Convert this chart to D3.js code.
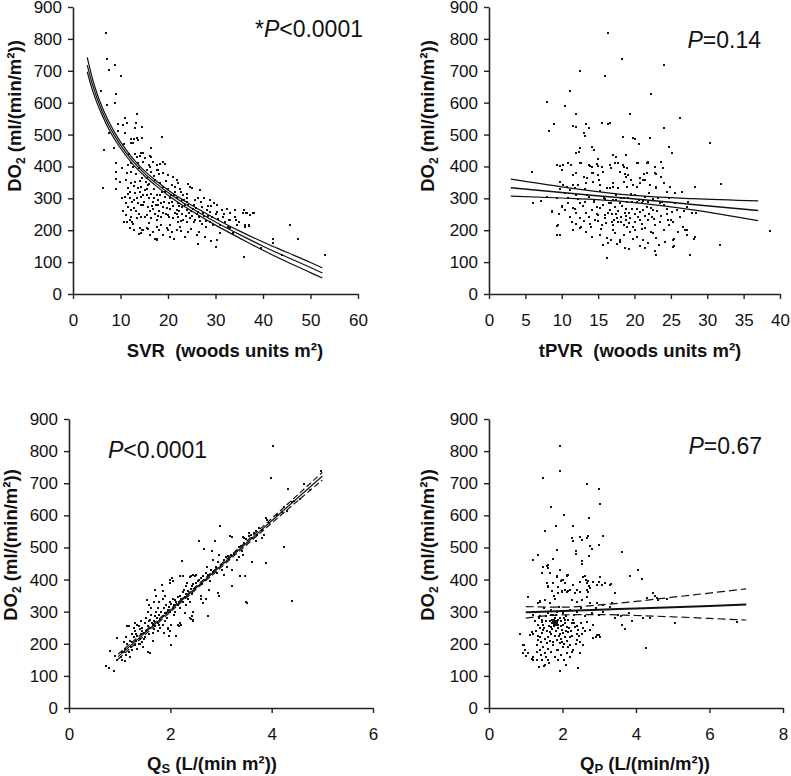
<!DOCTYPE html>
<html>
<head>
<meta charset="utf-8">
<script src="https://cdn.jsdelivr.net/npm/d3@7"></script>
<style>
  html, body { margin: 0; padding: 0; background: #fff; }
  svg text { font-family: "Liberation Sans", Arial, sans-serif; fill: #111; }
</style>
</head>
<body>
<svg id="chart" width="791" height="776"></svg>
<script>
// ---------------- DATA ----------------
const yTicks = [0, 100, 200, 300, 400, 500, 600, 700, 800, 900];
const svrTicks = [0, 10, 20, 30, 40, 50, 60];
const tpvrTicks = [0, 5, 10, 15, 20, 25, 30, 35, 40];
const qsTicks = [0, 2, 4, 6];
const qpTicks = [0, 2, 4, 6, 8];

const pLabels = ["*P<0.0001", "P=0.14", "P<0.0001", "P=0.67"];

// Panel A: SVR vs DO2 (points)
const svrPoints = [
[7.0,820],[7.2,738],[7.6,702],[8.9,717],[10.2,683],[5.9,637],[9.1,626],[8.9,600],[7.2,592],[13.4,566],[11.0,551],[13.2,535],[9.4,533],[10.5,530],[11.3,537],[13.1,521],[14.5,525],[9.4,510],[11.0,506],[7.6,504],[12.2,485],[12.9,485],[13.4,489],[13.7,483],[14.5,489],[18.7,493],[12.2,474],[12.7,472],[8.7,457],[6.5,451],[16.4,459],[14.3,441],[14.8,443],[16.3,433],
[9.1,412],[13.0,439],[13.4,430],[14.1,432],[15.1,425],[16.5,430],[16.9,415],[18.3,409],[19.0,415],[19.3,407],[17.6,404],[16.2,399],[14.8,415],[13.7,410],
[9.1,383],[9.1,362],[11.6,404],[12.6,399],[12.3,383],[15.5,389],[16.5,383],[17.9,389],[19.0,378],[20.0,373],[21.1,366],[21.8,357],[22.2,347],
[9.1,328],[6.3,332],[11.2,357],[12.3,347],[13.0,352],[13.7,331],[14.4,336],[15.1,326],[15.8,342],[17.2,357],[18.3,347],[19.0,334],[20.0,328],[20.8,342],[21.5,334],[24.6,334],[25.0,331],[22.5,328],[23.2,310],[23.9,313],
[11.6,331],[11.9,321],[13.0,318],[14.4,305],[15.5,310],[16.5,315],[17.6,310],[19.3,305],[20.4,300],[21.8,300],[22.9,295],[23.9,289],[25.7,295],[26.7,326],[27.5,300],[28.9,295],[29.6,284],[30.3,279],
[10.9,305],[11.2,284],[11.6,274],[12.3,263],[12.8,295],[13.7,284],[14.8,279],[15.8,274],[16.9,268],[17.9,279],[19.0,274],[20.4,268],[21.8,263],[22.9,274],[23.9,263],[25.3,268],[26.4,258],[27.1,274],[28.2,263],[28.9,258],[30.3,258],[31.3,263],[32.4,268],[33.1,253],[34.2,263],[35.9,263],[36.6,253],[37.3,247],[38.0,253],
[11.2,248],[11.9,232],[12.3,242],[13.4,237],[14.4,242],[15.5,248],[16.5,237],[17.6,232],[18.6,242],[20.0,248],[21.1,237],[22.2,242],[23.2,232],[24.6,237],[25.7,232],[27.1,221],[28.9,226],[31.0,216],[33.1,232],[36.3,211],[37.0,216],[33.1,206],[23.9,227],
[12.6,221],[14.1,206],[14.8,200],[15.5,206],[16.9,195],[17.6,211],[18.6,216],[19.7,206],[20.8,195],[21.8,200],[22.5,211],[24.3,195],[26.0,185],[27.8,180],[30.3,169],[31.0,190],[20.4,180],[14.4,190],[16.2,185],[17.6,169],[20.4,216],
[45.6,217],[47.3,172],[42.1,172],[42.1,161],[44.0,123],[53.0,123],[37.8,255],[36.4,255],[35.7,253],[36.3,216],[37.1,214],[35.9,115],[39.5,144],[33.6,191],[30.1,147],[26.4,156],[29.1,165],[32.9,232],[34.3,232],
[10.8,227],[12.5,225],[13.9,188],[14.6,201],[15.7,203],[17.3,172],[17.6,172],[19.9,201],[21.3,172],[22.7,198],[26.6,193],
[12.0,300],[12.8,270],[13.5,300],[14.0,355],[14.2,320],[15.0,290],[15.3,350],[16.0,300],[16.2,260],[16.8,290],[17.0,330],[17.3,250],[17.8,295],[18.0,260],[18.5,285],[18.8,320],[19.2,290],[19.6,250],[20.2,285],[20.6,310],[21.0,275],[21.4,255],[22.0,285],[22.4,260],[23.0,250],[23.5,280],[24.0,300],[24.4,255],[25.0,245],[25.5,280],[26.0,250],[26.5,240],[27.0,290],[27.6,245],[28.0,230],[28.5,275],[29.3,240],[30.0,250],[31.5,240],[32.0,225],[34.0,240],[35.0,225],[15.6,365],[17.0,370],[18.2,375],[13.2,375],[14.6,365],[10.4,395],[11.4,380],[19.6,355],[21.5,320],[24.2,345],[22.8,320],
[11.5,315],[12.4,290],[12.9,340],[13.3,260],[13.8,250],[14.3,280],[14.7,310],[15.2,240],[15.6,330],[16.1,345],[16.6,275],[17.1,300],[17.5,280],[17.9,245],[18.4,310],[18.9,255],[19.4,320],[19.8,270],[20.3,240],[20.9,290],[21.3,310],[21.9,250],[22.3,275],[22.8,230],[23.3,295],[23.8,245],[24.3,280],[24.8,260],[25.4,225],[25.9,270],[26.3,300],[26.8,230],[27.3,255],[27.9,210],[28.4,245],[29.0,275],[29.5,215],[30.6,235],[31.8,250],[32.7,210],[34.6,215],[12.2,410],[13.9,395],[15.9,405],[17.7,390],[11.8,440],[10.7,470],[9.9,350],[10.3,300],[10.6,260],[11.3,225],[12.1,206],[12.9,200],[16.1,222],[18.1,200],[19.0,185],[22.0,225],[24.9,205],[23.6,180]
];
// Panel A fit curve and 95% limits
const svrFitX     = [3, 4, 5, 6, 7.5, 10, 12.5, 15, 17.5, 20, 25, 30, 35, 40, 45, 50, 52.5];
const svrFitMid   = [718, 662, 616, 578, 530, 467, 418, 379, 347, 318, 269, 226, 187, 150, 116, 83, 66];
const svrFitUpper = [742, 681, 631, 591, 542, 477, 427, 387, 355, 326, 278, 236, 198, 163, 131, 99, 82];
const svrFitLower = [697, 644, 601, 565, 518, 457, 409, 371, 339, 310, 260, 216, 176, 137, 101, 67, 50];

// Panel B: tPVR vs DO2
const tpvrPoints = [
[16.4,820],[18.3,738],[24.1,717],[12.5,700],[15.9,683],[11.1,637],[22.3,626],[8.0,601],[10.4,591],[11.9,566],[19.4,566],[26.2,551],[8.9,533],[11.5,528],[12.0,525],[13.3,533],[15.5,535],[16.4,533],[16.7,537],[13.8,519],[8.3,511],[13.0,504],[13.2,495],[24.0,522],[18.4,493],[19.8,488],[20.0,485],[22.1,490],[30.4,475],[20.6,470],[12.5,457],[12.4,446],[14.2,460],[14.4,451],[24.8,460],[25.1,441],[17.1,436],[17.5,429],[18.8,435],[21.9,415],[21.9,410],[20.4,412],[11.9,441],[10.9,410],[11.3,405],[9.3,405],[9.8,400],[13.7,405],[13.9,400],[15.0,422],[15.0,400],[12.7,412],[16.6,405],[16.8,396],[17.8,410],[18.4,403],[19.5,358],[23.9,396],[21.3,376],[22.9,376],[21.4,358],[18.7,376],[14.3,379],[15.1,358],[13.5,363],[11.9,379],[10.0,389],[28.3,337],[31.9,345],[5.9,382],[9.8,352],[24.4,321],[23.0,337],[20.3,334],[16.6,332],[17.1,337],[13.2,330],[11.6,342],
[10.2,404],[12.5,410],[14.1,399],[14.8,407],[15.5,399],[17.3,412],[18.5,399],[19.0,394],[20.5,412],[21.7,412],[22.8,399],[23.7,415],
[11.6,373],[13.0,368],[14.1,378],[15.0,373],[15.7,383],[18.0,383],[18.8,368],[19.1,373],[20.8,363],[21.7,378],[22.8,378],[23.7,368],
[10.2,342],[10.7,336],[11.8,331],[12.3,342],[13.4,347],[14.3,352],[15.2,342],[16.2,331],[17.1,347],[17.8,331],[18.5,352],[19.0,336],[19.8,342],[20.8,347],[21.2,357],[22.1,342],[23.0,331],[24.0,347],[24.9,336],[25.6,316],[26.5,321],[27.4,289],
[6.0,284],[7.1,291],[8.7,258],[9.3,300],[10.0,274],[10.9,284],[11.8,268],[12.5,284],[13.2,289],[14.1,263],[14.8,274],[15.7,279],[16.6,263],[17.3,274],[18.0,284],[18.9,268],[19.6,289],[20.3,268],[21.0,284],[21.7,274],[22.6,263],[23.5,284],[24.4,268],[25.1,258],[25.8,263],[27.2,274],[27.9,253],[28.5,253],
[9.5,216],[9.8,185],[11.1,242],[11.4,227],[11.6,201],[12.5,237],[12.7,211],[13.4,253],[13.9,221],[14.6,232],[15.0,248],[15.5,216],[15.9,237],[16.4,253],[16.9,227],[17.1,216],[17.6,237],[17.8,227],[18.2,242],[18.5,216],[18.9,232],[19.4,237],[19.8,211],[20.1,227],[20.5,242],[21.0,221],[21.4,206],[21.9,232],[22.4,242],[22.8,216],[23.5,227],[24.0,201],[24.6,232],[25.3,227],[26.0,195],[26.7,211],[27.2,201],[28.3,180],
[12.5,206],[13.4,195],[14.1,180],[15.2,185],[16.2,175],[17.3,190],[18.0,169],[18.5,185],[19.4,195],[20.3,180],[21.2,169],[22.6,190],[23.0,175],[25.3,169],[27.2,185],
[15.7,154],[16.4,159],[18.0,164],[19.8,174],[21.4,143],[21.9,159],[23.3,154],[25.3,148],[27.6,122],[23.0,122],[18.7,143],[16.2,112],
[38.6,198],[31.7,154],[28.2,172],[26.9,201],[27.2,186],[25.4,172],[25.4,149],[9.3,214],[9.4,186],[8.6,259],[10.0,277],
[8.0,305],[10.5,318],[12.0,312],[13.8,305],[15.2,322],[16.0,298],[17.5,310],[18.6,302],[19.5,315],[20.6,295],[21.5,305],[22.5,298],[23.8,290],[24.8,300],[14.5,296],[11.2,326],[9.8,330],[17.0,295],[20.0,310],[22.0,318],[19.0,290],[16.8,285],[18.2,300],[21.2,292],[23.2,302],
[17.5,250],[19.2,255],[20.8,258],[16.0,248],[18.8,245],[22.0,250],[20.0,200],[17.0,202],[22.2,195],[24.8,215],[13.0,230],[15.4,205],
[9.6,250],[10.4,262],[10.8,300],[11.5,270],[12.0,255],[12.2,298],[12.9,275],[13.5,310],[13.7,240],[14.4,288],[14.9,252],[15.3,270],[15.8,300],[16.1,224],[16.5,285],[16.9,250],[17.4,295],[17.7,260],[18.1,225],[18.3,275],[18.7,255],[19.1,300],[19.3,222],[19.7,265],[20.1,250],[20.4,290],[20.7,232],[21.1,262],[21.5,245],[21.8,290],[22.2,270],[22.7,235],[23.1,260],[23.6,245],[24.1,280],[24.5,250],[25.0,232],[25.5,285],[26.2,240],[26.8,260],[15.0,230],[17.2,232],[19.0,210],[21.0,205],[14.0,210],[12.0,220],[16.8,170],[20.8,150],[22.8,135],[19.2,140],[24.2,163],[17.6,158]
];
const tpvrFitX     = [3, 10, 19, 28, 37];
const tpvrFitMid   = [333, 318, 300, 281, 262];
const tpvrFitUpper = [360, 336, 311, 299, 292];
const tpvrFitLower = [307, 301, 289, 264, 230];

// Panel C: Qs vs DO2
const qsPoints = [
[4.03,817],[3.98,716],[4.33,682],[4.63,699],[4.97,737],[4.24,500],[4.41,334],[3.49,330],[2.99,566],[2.57,519],[2.24,457],[3.88,452],[3.61,456],[3.18,535],[3.41,488],[2.82,488],[2.66,495],[2.96,478],[3.14,472],[3.31,462],[3.38,410],[3.22,381],[3.05,415],[2.76,369],[2.95,358],[2.96,350],[2.75,288],[2.44,415],[2.49,410],[2.57,400],[2.32,389],[2.42,379],[2.41,277],[2.45,275],[2.61,340],[2.65,327],[2.19,410],[2.26,369],[2.03,405],[1.99,389],[2.01,197],[2.11,225],[1.53,337],[1.83,384],[1.70,369],[0.94,218],[0.81,177],[0.74,130],[0.78,125],[0.88,114],[0.91,161],[0.94,151],
[3.89,591],[2.89,521],[3.21,534],[3.44,534],[3.21,430],[3.44,476],[3.47,411],[3.51,328],[2.72,440],[2.39,409],[2.51,414],
[1.02,160],[1.05,150],[1.08,175],[1.10,185],[1.12,165],[1.15,200],[1.18,175],[1.20,210],[1.15,255],[1.18,255],[1.05,175],[1.10,145],[1.20,160],[1.22,190],[1.25,180],[1.12,220],[1.08,205],
[1.25,205],[1.28,220],[1.30,195],[1.30,240],[1.32,210],[1.35,225],[1.35,260],[1.38,200],[1.40,245],[1.40,215],[1.42,230],[1.45,250],[1.45,205],[1.48,235],[1.50,265],[1.50,220],[1.30,265],[1.28,250],[1.35,185],[1.42,270],[1.47,190],[1.40,200],[1.33,230],[1.45,240],[1.38,255],[1.25,230],[1.48,215],
[1.52,240],[1.55,300],[1.55,255],[1.58,230],[1.60,275],[1.60,250],[1.62,290],[1.65,260],[1.65,235],[1.68,270],[1.70,285],[1.70,255],[1.72,300],[1.75,265],[1.75,240],[1.78,290],[1.80,275],[1.80,250],[1.55,175],[1.60,170],[1.65,210],[1.68,330],[1.72,350],[1.58,320],[1.62,310],[1.75,310],[1.78,330],[1.52,280],[1.57,270],[1.63,265],[1.67,245],[1.73,280],[1.77,260],
[1.82,300],[1.85,285],[1.85,260],[1.88,310],[1.90,295],[1.90,270],[1.92,320],[1.95,305],[1.95,250],[1.98,315],[2.00,330],[2.00,300],[2.02,325],[2.05,310],[2.05,340],[2.08,320],[2.10,335],[2.10,300],[1.85,365],[1.90,350],[1.95,245],[2.00,240],[2.02,260],[1.88,235],[2.05,395],[2.00,400],[1.85,340],[1.93,280],[2.07,290],[1.97,225],
[2.12,330],[2.15,345],[2.15,320],[2.18,330],[2.20,350],[2.20,310],[2.22,340],[2.25,360],[2.25,330],[2.28,345],[2.30,355],[2.30,320],[2.35,365],[2.35,340],[2.38,330],[2.40,370],[2.42,355],[2.45,385],[2.45,300],[2.48,375],[2.50,390],[2.15,260],[2.18,255],[2.20,265],[2.22,260],[2.38,280],[2.42,285],[2.45,270],[2.30,380],[2.25,410],[2.40,410],[2.28,295],
[2.55,395],[2.60,405],[2.62,385],[2.65,410],[2.70,420],[2.72,440],[2.75,415],[2.80,430],[2.85,425],[2.90,440],[2.95,455],[3.00,445],[3.05,460],[3.10,470],[3.15,465],[3.20,475],[2.68,400],[2.78,395],[2.92,420],[3.02,430],[3.12,440],[2.85,460],[2.60,350],[2.70,340],
[3.25,480],[3.30,490],[3.35,500],[3.40,505],[3.45,515],[3.50,525],[3.55,535],[3.60,540],[3.65,545],[3.70,550],[3.75,560],[3.80,555],[3.85,540],[3.90,585],[3.45,530],[3.55,545],[3.62,530],[3.72,540],[3.80,530],[3.35,470],[3.70,520],[3.95,575],
[4.10,600],[4.20,610],[4.25,625],[4.30,615],[4.40,640],[4.45,645],[4.55,650],[4.75,680]
];
const qsFitX     = [0.97, 2, 3, 4, 5];
const qsFitMid   = [160, 304, 443, 583, 722];
const qsFitUpper = [168, 308, 448, 590, 734];
const qsFitLower = [152, 299, 438, 576, 710];

// Panel D: Qp vs DO2
const qpPoints = [
[1.93,817],[1.93,737],[1.48,717],[2.66,699],[2.98,682],[1.68,625],[3.02,636],[2.05,600],[2.72,592],[1.81,566],[2.29,566],[1.52,550],[2.48,532],[2.52,524],[2.25,530],[2.29,519],[2.70,535],[2.68,530],[3.11,537],[2.98,509],[2.36,488],[2.37,481],[1.84,493],[1.34,478],[1.21,460],[2.75,504],[2.79,495],[2.73,472],[3.61,486],[1.75,464],[2.52,457],[2.54,447],[1.59,441],[1.61,436],[4.06,431],[4.17,403],[3.84,410],[2.16,415],[2.13,410],[1.43,420],[1.57,389],[1.61,379],[1.84,410],[2.00,400],[1.95,395],[3.02,407],[2.98,391],[3.07,384],[3.31,387],[2.61,410],[2.64,400],[2.70,395],[2.73,379],[2.66,369],[2.39,369],[2.48,360],[1.98,363],[2.07,366],[2.16,363],[1.71,363],[1.77,348],[1.05,345],[1.39,332],[1.34,327],[4.47,358],[4.52,350],[4.56,343],[4.61,337],[4.29,343],[4.83,340],[3.43,358],
[3.61,260],[3.70,246],[3.58,286],[3.43,280],[3.88,270],[4.18,280],[4.38,280],[5.06,265],[6.76,267],[4.26,187],[0.84,232],[0.95,197],[0.92,171],[1.02,161],[1.21,148],[1.37,128],[1.50,130],[1.93,114],[2.41,125],[2.48,171],[2.82,218],[2.91,221],[2.98,228],
[0.93,196],[0.98,180],[1.11,227],[1.16,238],[1.21,232],[1.07,170],[1.16,154],[1.21,158],[1.30,150],
[1.34,258],[1.39,248],[1.43,269],[1.48,243],[1.39,222],[1.34,212],[1.30,196],[1.39,180],[1.48,191],[1.52,170],[1.57,201],[1.61,222],[1.66,238],[1.70,253],[1.75,269],[1.80,279],[1.84,264],[1.89,248],[1.93,232],[1.98,243],[2.02,258],[2.07,274],[2.11,253],[2.16,238],[2.20,222],[2.25,264],[2.29,274],[2.34,253],[2.39,232],[2.43,243],[2.48,206],[2.52,232],[2.57,248],[2.66,269],[2.75,243],[2.84,258],[2.93,227],[3.02,222],[1.61,149],[1.80,160],[1.89,180],[1.93,201],[2.02,191],[2.11,170],[2.20,160],[1.43,149],[1.52,134],[1.75,196],[1.84,212],[1.98,206],[2.07,222],[2.16,191],[2.29,180],[2.39,212],
[1.21,461],[1.34,476],[1.48,440],[1.61,445],[1.66,419],[1.84,409],[1.93,430],[1.98,399],[2.11,414],[2.07,388],[2.20,367],[2.29,383],[2.34,357],[2.48,393],[2.57,409],[2.66,388],[2.70,362],[2.75,373],[2.84,393],[2.93,383],[3.02,409],[3.16,388],[3.29,383],[1.39,331],[1.52,336],[1.66,326],[1.80,341],[1.89,357],[1.98,362],[2.11,362],[2.25,336],[2.39,331],[2.52,336],[2.66,347],[2.75,326],[2.93,326],[3.11,321],[3.34,326],[1.61,378],[1.75,388],[1.89,378],
[1.20,290],[1.30,300],[1.40,285],[1.50,310],[1.60,295],[1.70,305],[1.75,290],[1.80,280],[1.85,300],[1.90,315],[2.00,295],[2.10,285],[2.20,305],[2.30,290],[2.40,300],[2.50,310],[2.60,285],[2.80,295],[2.90,310],[3.00,290],[3.10,300],[3.30,315],[3.50,290],[3.80,295],[1.45,275],[1.55,285],[1.65,270],[1.72,265],[1.78,268],[1.82,262],[1.88,275],[1.95,270],[2.05,280],[1.80,270],[1.76,275],
[1.25,270],[1.28,240],[1.32,225],[1.36,280],[1.41,205],[1.44,235],[1.46,260],[1.50,250],[1.53,215],[1.55,270],[1.58,240],[1.60,185],[1.63,255],[1.66,210],[1.68,290],[1.70,230],[1.72,245],[1.74,205],[1.77,255],[1.79,225],[1.81,290],[1.83,240],[1.85,180],[1.87,260],[1.90,225],[1.92,280],[1.95,215],[1.97,255],[2.00,235],[2.03,200],[2.06,265],[2.09,240],[2.12,210],[2.15,275],[2.18,250],[2.21,195],[2.24,240],[2.27,225],[2.32,265],[2.36,200],[2.40,255],[2.45,225],[2.50,265],[2.55,195],[2.60,240],[1.78,262],[1.80,258],[1.82,266],[1.84,260],[1.76,258],[1.72,275],[1.86,272],[1.42,165],[1.55,160],[1.70,175],[1.95,165],[2.05,150],[2.25,175],[1.30,175],[1.62,140],[1.88,148],[2.10,135]
];
const qpFitX     = [1, 2, 3, 4, 5, 6, 7];
const qpFitMid   = [298, 302, 306, 310, 314, 318, 322];
const qpFitUpper = [316, 314, 321, 332, 345, 358, 371];
const qpFitLower = [280, 290, 291, 288, 284, 279, 274];

// ---------------- DRAW ----------------
const svg = d3.select("#chart");

const panels = [
  { box:{l:73,r:358,t:7,b:294}, xDom:[0,60], xTicks:svrTicks, pts:svrPoints,
    fitX:svrFitX, mid:svrFitMid, up:svrFitUpper, lo:svrFitLower, ciDash:null, midW:1.2,
    xTitle:["SVR\u00a0 (woods units m²)"], xTitleX:225, xTitleY:357,
    yTitleX:21, yTitleY:116, p:pLabels[0], pX:363, pY:37, pAnchor:"end" },
  { box:{l:489,r:780,t:7,b:294}, xDom:[0,40], xTicks:tpvrTicks, pts:tpvrPoints,
    fitX:tpvrFitX, mid:tpvrFitMid, up:tpvrFitUpper, lo:tpvrFitLower, ciDash:null, midW:1.5,
    xTitle:["tPVR\u00a0 (woods units m²)"], xTitleX:640, xTitleY:357,
    yTitleX:434, yTitleY:116, p:pLabels[1], pX:761, pY:48, pAnchor:"end" },
  { box:{l:69,r:373,t:419,b:708}, xDom:[0,6], xTicks:qsTicks, pts:qsPoints,
    fitX:qsFitX, mid:qsFitMid, up:qsFitUpper, lo:qsFitLower, ciDash:"6,3", midW:1.2,
    xTitle:["Q","S"," (L/(min m²))"], xTitleX:212, xTitleY:770,
    yTitleX:17, yTitleY:545, p:pLabels[2], pX:108, pY:458, pAnchor:"start" },
  { box:{l:489,r:783,t:419,b:708}, xDom:[0,8], xTicks:qpTicks, pts:qpPoints,
    fitX:qpFitX, mid:qpFitMid, up:qpFitUpper, lo:qpFitLower, ciDash:"8,4", midW:2,
    xTitle:["Q","P"," (L/(min/m²))"], xTitleX:645, xTitleY:770,
    yTitleX:434, yTitleY:545, p:pLabels[3], pX:762, pY:454, pAnchor:"end" }
];

panels.forEach(pn => {
  const g = svg.append("g");
  const x = d3.scaleLinear().domain(pn.xDom).range([pn.box.l, pn.box.r]);
  const y = d3.scaleLinear().domain([0, 900]).range([pn.box.b, pn.box.t]);

  // points
  g.append("g").selectAll("rect").data(pn.pts).enter().append("rect")
    .attr("x", d => Math.round(x(d[0])) - 1)
    .attr("y", d => Math.round(y(d[1])) - 1)
    .attr("width", 2).attr("height", 2)
    .attr("fill", "#111");

  // fit lines
  const mk = arr => pn.fitX.map((v, i) => [v, arr[i]]);
  const line = d3.line().x(d => x(d[0])).y(d => y(d[1])).curve(d3.curveMonotoneX);
  [[pn.up, true], [pn.lo, true], [pn.mid, false]].forEach(([arr, isCI]) => {
    g.append("path").attr("d", line(mk(arr)))
      .attr("fill", "none").attr("stroke", "#111")
      .attr("stroke-width", isCI ? 1.2 : pn.midW)
      .attr("stroke-dasharray", isCI && pn.ciDash ? pn.ciDash : null);
  });

  // axes
  const ax = g.append("g").attr("transform", `translate(0,${pn.box.b})`)
    .call(d3.axisBottom(x).tickValues(pn.xTicks).tickFormat(d3.format("d"))
      .tickSize(5).tickSizeOuter(0).tickPadding(15));
  const ay = g.append("g").attr("transform", `translate(${pn.box.l},0)`)
    .call(d3.axisLeft(y).tickValues(yTicks).tickFormat(d3.format("d"))
      .tickSize(5).tickSizeOuter(0).tickPadding(6));
  [ax, ay].forEach(a => {
    a.select(".domain").attr("stroke", "#222").attr("stroke-width", 1.6);
    a.selectAll(".tick line").attr("stroke", "#222").attr("stroke-width", 1.4);
    a.selectAll(".tick text").attr("font-size", 17)
      .attr("font-family", "Liberation Sans, Arial, sans-serif").attr("fill", "#111");
  });

  // x title
  const xt = g.append("text").attr("x", pn.xTitleX).attr("y", pn.xTitleY)
    .attr("text-anchor", "middle").attr("font-size", 18.5).attr("font-weight", "bold")
    .style("white-space", "pre");
  if (pn.xTitle.length === 1) {
    xt.text(pn.xTitle[0]);
  } else {
    xt.append("tspan").text(pn.xTitle[0]);
    xt.append("tspan").attr("font-size", 13).attr("dy", 3).text(pn.xTitle[1]);
    xt.append("tspan").attr("dy", -3).text(pn.xTitle[2]);
  }

  // y title (rotated)
  const yt = g.append("text")
    .attr("transform", `translate(${pn.yTitleX},${pn.yTitleY}) rotate(-90)`)
    .attr("text-anchor", "middle").attr("font-size", 18.5).attr("font-weight", "bold");
  yt.append("tspan").text("DO");
  yt.append("tspan").attr("font-size", 12).attr("dy", 4).text("2");
  yt.append("tspan").attr("dy", -4).text(" (ml/(min/m²))");

  // P value
  const pt = g.append("text").attr("x", pn.pX).attr("y", pn.pY)
    .attr("text-anchor", pn.pAnchor).attr("font-size", 23);
  const txt = pn.p;
  const star = txt.startsWith("*");
  if (star) pt.append("tspan").text("*");
  pt.append("tspan").attr("font-style", "italic").text("P");
  pt.append("tspan").text(txt.slice(star ? 2 : 1));
});
</script>
</body>
</html>
